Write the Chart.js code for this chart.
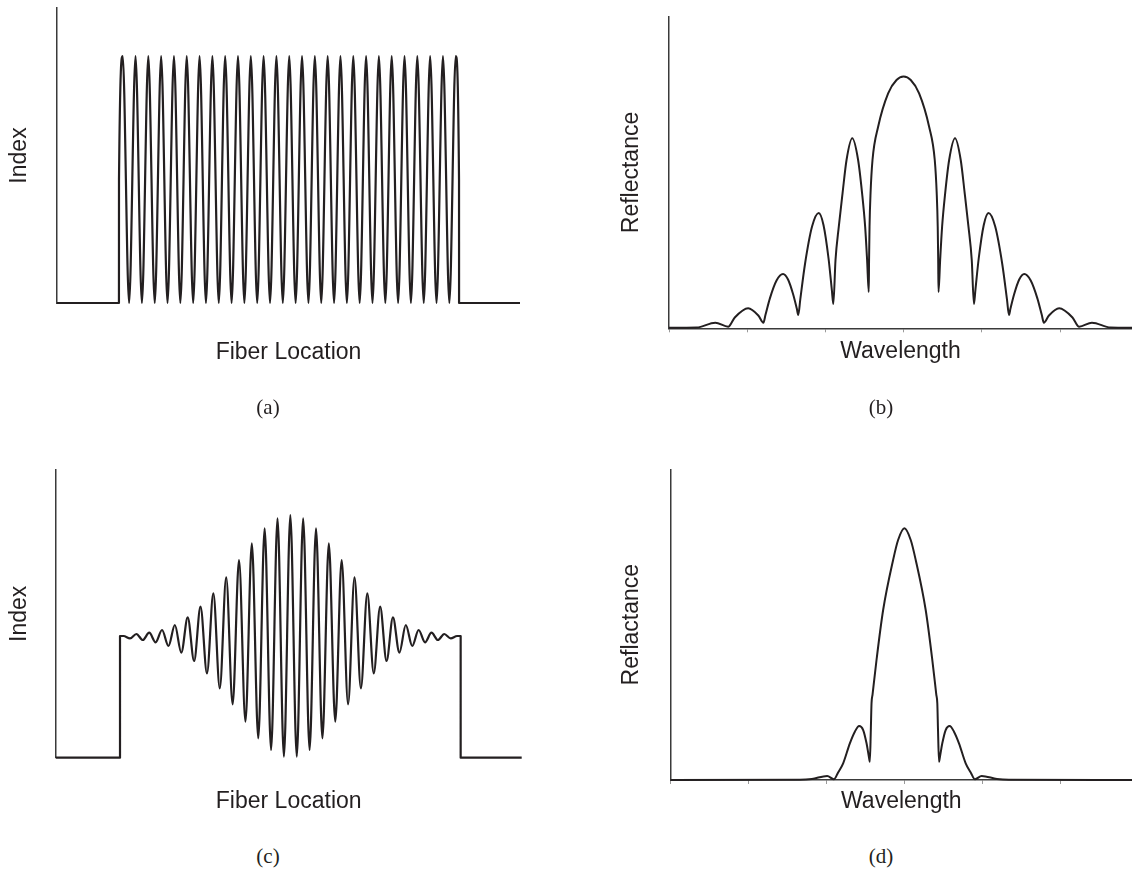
<!DOCTYPE html>
<html>
<head>
<meta charset="utf-8">
<title>Fiber grating index profiles and reflectance</title>
<script src="https://cdn.jsdelivr.net/npm/chart.js@4.4.1/dist/chart.umd.min.js"></script>
<style>
  html, body { margin: 0; padding: 0; background: #fff; }
  #page { position: relative; width: 1132px; height: 873px; overflow: hidden; }
  #page canvas { position: absolute; }
  .panel-label {
    position: absolute;
    font-family: "Liberation Serif", "Times New Roman", serif;
    font-size: 21px;
    color: #231f20;
    transform: translate(-50%, -50%);
    white-space: nowrap;
  }
</style>
</head>
<body>
<div id="page">
  <canvas id="chart-a" width="525" height="400" style="left:0;top:0"></canvas>
  <canvas id="chart-b" width="542" height="400" style="left:590px;top:0"></canvas>
  <canvas id="chart-c" width="527" height="400" style="left:0;top:440px"></canvas>
  <canvas id="chart-d" width="542" height="400" style="left:590px;top:440px"></canvas>
  <div class="panel-label" style="left:268px;top:407px">(a)</div>
  <div class="panel-label" style="left:881px;top:407px">(b)</div>
  <div class="panel-label" style="left:268px;top:856px">(c)</div>
  <div class="panel-label" style="left:881px;top:856px">(d)</div>
</div>
<script>
// ─── DATA ──────────────────────────────────────────────────────────────────────

// (a) uniform grating: index vs fiber location (peaks / troughs of the modulation)
const uniformLoc = [
  0, 13.38, 13.39,
  14.19, 15.57, 16.96, 18.34, 19.72, 21.11, 22.49, 23.87, 25.26, 26.64,
  28.02, 29.41, 30.79, 32.17, 33.56, 34.94, 36.32, 37.71, 39.09, 40.47,
  41.86, 43.24, 44.62, 46.01, 47.39, 48.77, 50.16, 51.54, 52.92, 54.31,
  55.69, 57.07, 58.46, 59.84, 61.22, 62.61, 63.99, 65.37, 66.76, 68.14,
  69.52, 70.91, 72.29, 73.67, 75.06, 76.44, 77.82, 79.21, 80.59, 81.97,
  83.36, 84.74, 86.12,
  86.83, 86.84, 100
]
const uniformIndex = [
  0, 0, 41.9,
  83.7, 0, 83.7, 0, 83.7, 0, 83.7, 0, 83.7, 0,
  83.7, 0, 83.7, 0, 83.7, 0, 83.7, 0, 83.7, 0,
  83.7, 0, 83.7, 0, 83.7, 0, 83.7, 0, 83.7, 0,
  83.7, 0, 83.7, 0, 83.7, 0, 83.7, 0, 83.7, 0,
  83.7, 0, 83.7, 0, 83.7, 0, 83.7, 0, 83.7, 0,
  83.7, 0, 83.7,
  41.9, 0, 0
]

// (b) uniform grating reflectance spectrum
const uniformWl = [
  -3.000, -2.645, -2.408, -2.244, -2.159, -1.988, -1.858, -1.793, -1.767, -1.710,
  -1.625, -1.542, -1.478, -1.412, -1.366, -1.347, -1.321, -1.261, -1.171, -1.086,
  -1.024, -0.960, -0.918, -0.899, -0.871, -0.829, -0.781, -0.730, -0.657, -0.582,
  -0.531, -0.492, -0.467, -0.446, -0.442, -0.436, -0.423, -0.398, -0.326, -0.198,
  -0.091, 0,
  0.091, 0.198, 0.326, 0.398, 0.423, 0.436, 0.442, 0.446, 0.467, 0.492,
  0.531, 0.582, 0.657, 0.730, 0.781, 0.829, 0.871, 0.899, 0.918, 0.960,
  1.024, 1.086, 1.171, 1.261, 1.321, 1.347, 1.366, 1.412, 1.478, 1.542,
  1.625, 1.710, 1.767, 1.793, 1.858, 1.988, 2.159, 2.244, 2.408, 2.645, 2.92
]
const uniformRefl = [
  0.16, 0.26, 1.80, 0.51, 3.47, 6.42, 4.11, 1.80, 4.24, 9.61,
  15.34, 17.43, 15.66, 10.85, 6.32, 4.27, 9.37, 20.64, 32.64, 37.00,
  33.09, 22.40, 12.36, 7.80, 21.92, 32.61, 43.32, 54.01, 60.98, 54.01,
  43.32, 32.61, 21.92, 11.65, 21.92, 32.61, 43.32, 54.01, 64.70, 75.42,
  79.69, 80.81,
  79.69, 75.42, 64.70, 54.01, 43.32, 32.61, 21.92, 11.65, 21.92, 32.61,
  43.32, 54.01, 60.98, 54.01, 43.32, 32.61, 21.92, 7.80, 12.36, 22.40,
  33.09, 37.00, 32.64, 20.64, 9.37, 4.27, 6.32, 10.85, 15.66, 17.43,
  15.34, 9.61, 4.24, 1.80, 4.11, 6.42, 3.47, 0.51, 1.80, 0.26, 0.16
]

// (c) apodized grating: index vs fiber location
const apodLoc = [
  0, 13.80, 13.80,
  14.56, 15.94, 17.31, 18.69, 20.07, 21.44, 22.82, 24.20, 25.57, 26.95,
  28.33, 29.70, 31.08, 32.46, 33.83, 35.21, 36.59, 37.97, 39.34, 40.72,
  42.09, 43.47, 44.84, 46.22, 47.60, 48.97, 50.35, 51.73, 53.10, 54.48,
  55.86, 57.23, 58.61, 59.99, 61.36, 62.74, 64.12, 65.49, 66.87, 68.25,
  69.62, 71.00, 72.37, 73.75, 75.13, 76.51, 77.88, 79.26, 80.64, 82.01,
  83.39, 84.77, 86.14,
  86.90, 86.90, 100
]
const apodIndex = [
  0, 0, 42.30,
  42.30, 41.49, 43.00, 40.91, 43.46, 40.10, 44.39, 38.82, 46.12, 36.51,
  48.79, 33.61, 52.50, 29.32, 57.13, 24.11, 62.69, 18.55, 68.72, 12.52,
  74.51, 6.73, 79.72, 2.68, 83.20, 0.36, 84.36, 0.36, 83.20, 2.68,
  79.72, 6.73, 74.51, 12.52, 68.72, 18.55, 62.69, 24.11, 57.13, 29.32,
  52.50, 33.61, 48.79, 36.51, 46.12, 38.82, 44.39, 40.10, 43.46, 40.91,
  43.00, 41.49, 42.30,
  42.30, 0, 0
]

// (d) apodized grating reflectance spectrum
const apodWl = [
  -3.000, -1.341, -1.187, -0.991, -0.904, -0.854, -0.786, -0.700, -0.636, -0.581,
  -0.529, -0.486, -0.456, -0.444, -0.431, -0.422, -0.409, -0.358, -0.273, -0.145,
  -0.081, 0,
  0.081, 0.145, 0.273, 0.358, 0.409, 0.422, 0.431, 0.444, 0.456, 0.486,
  0.529, 0.581, 0.636, 0.700, 0.786, 0.854, 0.904, 0.991, 1.187, 1.341, 2.92
]
const apodRefl = [
  0, 0.06, 0.32, 1.29, 0.23, 2.25, 5.37, 11.81, 15.55, 17.38,
  16.09, 11.81, 7.50, 5.89, 16.09, 24.69, 27.49, 38.62, 54.71, 70.81,
  77.24, 81.01,
  77.24, 70.81, 54.71, 38.62, 27.49, 24.69, 16.09, 5.89, 7.50, 11.81,
  16.09, 17.38, 15.55, 11.81, 5.37, 2.25, 0.23, 1.29, 0.32, 0.06, 0
]

// axis titles
const locationTitle = "Fiber Location"
const indexTitle    = "Index"
const wlTitle       = "Wavelength"
const reflTitles    = ["Reflectance", "Reflactance"]


// ─── STYLE ─────────────────────────────────────────────────────────────────────
const INK   = "#231f20"
const AXIS  = "#3a3a3a"
const TICK  = "#9a9a9a"
const LABEL_FONT = { family: "'Liberation Sans', Arial, sans-serif", size: 23, lineHeight: 1.2 }

function titleOpts(text, pad) {
  return { display: true, text: text, color: INK, font: LABEL_FONT, padding: { top: pad[0], bottom: pad[1] } }
}

function toPoints(xs, ys) {
  return xs.map((x, i) => ({ x: x, y: ys[i] }))
}


// ─── PANEL BUILDER ─────────────────────────────────────────────────────────────
function drawPanel(id, xs, ys, o) {
  const ctx = document.getElementById(id).getContext("2d")
  return new Chart(ctx, {
    type: "line",
    data: { datasets: [{
      data: toPoints(xs, ys),
      borderColor: INK,
      borderWidth: o.lineWidth,
      borderJoinStyle: "round",
      pointRadius: 0,
      cubicInterpolationMode: "monotone",
      fill: false,
      clip: false,
    }]},
    options: {
      responsive: false,
      animation: false,
      devicePixelRatio: 1,
      events: [],
      layout: { padding: o.padding },
      plugins: { legend: { display: false }, tooltip: { enabled: false } },
      scales: {
        x: {
          type: "linear",
          min: o.xMin, max: o.xMax,
          border: { display: o.xTicks, color: AXIS, width: 1.5 },
          grid: { display: o.xTicks, drawOnChartArea: false, drawTicks: o.xTicks, tickLength: 4, color: TICK, lineWidth: 1 },
          ticks: { display: false, stepSize: o.xStep, includeBounds: false },
          title: titleOpts(o.xTitle, o.xTitlePad),
        },
        y: {
          type: "linear",
          min: 0, max: 100,
          border: { display: true, color: AXIS, width: 1.5 },
          grid: { display: false, drawTicks: false },
          ticks: { display: false },
          title: titleOpts(o.yTitle, o.yTitlePad),
        },
      },
    },
  })
}


// ─── CHARTS ────────────────────────────────────────────────────────────────────
drawPanel("chart-a", uniformLoc, uniformIndex, {
  lineWidth: 2.2, xMin: 0, xMax: 100, xStep: 10, xTicks: false,
  padding: { top: 8, right: 5, bottom: 0, left: 0 },
  xTitle: locationTitle, xTitlePad: [35.7, 33.7],
  yTitle: indexTitle,    yTitlePad: [6.2, 23.2],
})

drawPanel("chart-b", uniformWl, uniformRefl, {
  lineWidth: 2, xMin: -3, xMax: 2.92, xStep: 1, xTicks: true,
  padding: { top: 16.7, right: 0, bottom: 0, left: 0 },
  xTitle: wlTitle,       xTitlePad: [5.9, 34.2],
  yTitle: reflTitles[0], yTitlePad: [27.9, 23.5],
})

drawPanel("chart-c", apodLoc, apodIndex, {
  lineWidth: 2.2, xMin: 0, xMax: 100, xStep: 10, xTicks: false,
  padding: { top: 30, right: 5.3, bottom: 0, left: 0 },
  xTitle: locationTitle, xTitlePad: [30.5, 24.2],
  yTitle: indexTitle,    yTitlePad: [6.2, 21.9],
})

drawPanel("chart-d", apodWl, apodRefl, {
  lineWidth: 2, xMin: -3, xMax: 2.92, xStep: 1, xTicks: true,
  padding: { top: 29.3, right: 0, bottom: 0, left: 0 },
  xTitle: wlTitle,       xTitlePad: [4.2, 24.2],
  yTitle: reflTitles[1], yTitlePad: [28.2, 24.8],
})
</script>
</body>
</html>
